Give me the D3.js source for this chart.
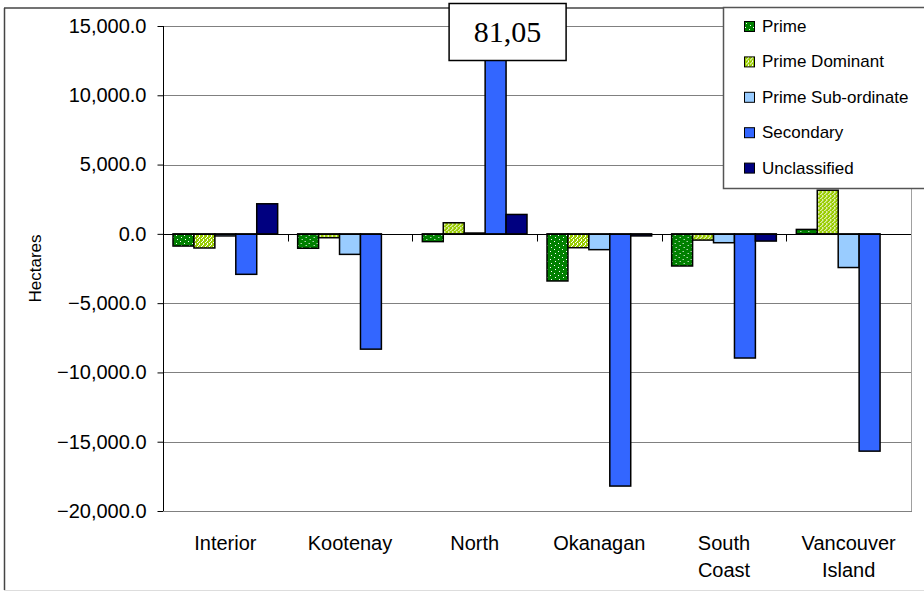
<!DOCTYPE html>
<html>
<head>
<meta charset="utf-8">
<script src="https://cdn.jsdelivr.net/npm/d3@7"></script>
<style>
  body { margin: 0; background: #fff; }
  svg { display: block; font-family: 'Liberation Sans', Arial, sans-serif; }
</style>
</head>
<body>
<svg width="924" height="591"></svg>
<script>
;(function (d3) {
  var categories = ['Interior', 'Kootenay', 'North', 'Okanagan', 'South Coast', 'Vancouver Island']
  var seriesNames = ['Prime', 'Prime Dominant', 'Prime Sub-ordinate', 'Secondary', 'Unclassified']

  // hectares
  var prime = [-880, -1040, -560, -3400, -2320, 320]
  var primeDominant = [-1020, -280, 800, -1000, -450, 3150]
  var primeSubordinate = [-150, -1480, 60, -1140, -640, -2430]
  var secondary = [-2920, -8320, 81050, -18200, -8960, -15680]
  var unclassified = [2170, 0, 1400, -150, -520, 0]

  var yTicks = [-20000, -15000, -10000, -5000, 0, 5000, 10000, 15000]
  var clippedLabel = '81,05'

  var seriesValues = [prime, primeDominant, primeSubordinate, secondary, unclassified]
  var fills = ['url(#dotsGreen)', 'url(#dotsLime)', '#99ccff', '#3366ff', '#000080']
  var swatch = ['url(#dotsGreen)', 'url(#dotsLime)', '#99ccff', '#3366ff', '#000080']

  var svg = d3.select('svg')
  var left = 163
  var right = 911
  var top = 26
  var bottom = 511

  var defs = svg.append('defs')

  function dots (id, bg, pts, size) {
    var p = defs.append('pattern')
      .attr('id', id)
      .attr('patternUnits', 'userSpaceOnUse')
      .attr('width', size)
      .attr('height', size)
    p.append('rect').attr('width', size).attr('height', size).attr('fill', bg)
    pts.forEach(function (d) {
      p.append('rect').attr('x', d[0]).attr('y', d[1]).attr('width', 1).attr('height', 1).attr('fill', '#fff')
    })
  }
  dots('dotsGreen', '#008000', [[1, 1], [5, 3], [2, 5], [6, 7]], 8)
  dots('dotsLime', '#99cc00', [[0, 0], [2, 2], [0, 3], [3, 1]], 4)

  defs.append('clipPath').attr('id', 'plotClip')
    .append('rect')
    .attr('x', left).attr('y', top)
    .attr('width', right - left).attr('height', bottom - top)

  // outer chart frame
  svg.append('line').attr('x1', 4.5).attr('x2', 4.5).attr('y1', 8).attr('y2', 590).attr('stroke', '#444').attr('stroke-width', 1.5)
  svg.append('line').attr('x1', 4).attr('x2', 924).attr('y1', 8).attr('y2', 8).attr('stroke', '#444').attr('stroke-width', 1.5)
  svg.append('line').attr('x1', 4).attr('x2', 924).attr('y1', 590.5).attr('y2', 590.5).attr('stroke', '#ddd')

  var y = d3.scaleLinear()
    .domain([-20000, 15000])
    .range([bottom, top])

  var x0 = d3.scaleBand()
    .domain(categories)
    .range([left, right])
    .padding(0)

  var x1 = d3.scaleBand()
    .domain(seriesNames)
    .range([10, x0.bandwidth() - 10])
    .padding(0)

  // gridlines
  svg.append('g')
    .selectAll('line')
    .data(yTicks.filter(function (d) { return d !== 0 }))
    .enter()
    .append('line')
    .attr('x1', left)
    .attr('x2', right)
    .attr('y1', function (d) { return Math.round(y(d)) + 0.5 })
    .attr('y2', function (d) { return Math.round(y(d)) + 0.5 })
    .attr('stroke', '#808080')

  svg.append('line')
    .attr('x1', right + 0.5).attr('x2', right + 0.5)
    .attr('y1', top).attr('y2', bottom)
    .attr('stroke', '#a0a0a0')

  // bars
  var rows = categories.map(function (c, i) {
    return seriesNames.map(function (s, j) {
      return {cat: c, name: s, j: j, value: seriesValues[j][i]}
    })
  })

  var groups = svg.append('g')
    .attr('clip-path', 'url(#plotClip)')
    .selectAll('g')
    .data(rows)
    .enter()
    .append('g')
    .attr('transform', function (d, i) { return 'translate(' + x0(categories[i]) + ',0)' })

  groups.selectAll('rect')
    .data(function (d) { return d.filter(function (e) { return e.value !== 0 }) })
    .enter()
    .append('rect')
    .attr('x', function (d) { return x1(d.name) })
    .attr('width', x1.bandwidth())
    .attr('y', function (d) { return y(Math.max(0, d.value)) })
    .attr('height', function (d) { return Math.max(1, Math.abs(y(d.value) - y(0))) })
    .attr('fill', function (d) { return fills[d.j] })
    .attr('stroke', '#000')
    .attr('stroke-width', 1.5)

  // zero axis with category ticks
  var zy = Math.round(y(0)) + 0.5
  svg.append('line')
    .attr('x1', left).attr('x2', right)
    .attr('y1', zy).attr('y2', zy)
    .attr('stroke', '#000')

  svg.append('g')
    .selectAll('line')
    .data(categories.slice(1))
    .enter()
    .append('line')
    .attr('x1', function (d) { return Math.round(x0(d)) + 0.5 })
    .attr('x2', function (d) { return Math.round(x0(d)) + 0.5 })
    .attr('y1', zy)
    .attr('y2', zy + 7)
    .attr('stroke', '#000')

  // y axis
  var yAxis = d3.axisLeft(y)
    .tickValues(yTicks)
    .tickSize(6)
    .tickPadding(11)
    .tickFormat(d3.format(',.1f'))

  var ya = svg.append('g')
    .attr('transform', 'translate(' + (left + 0.5) + ',0)')
    .call(yAxis)
  ya.select('.domain').remove()
  ya.selectAll('.tick line').attr('stroke', '#000')
  ya.selectAll('.tick text')
    .attr('font-size', 20)
    .attr('font-family', "'Liberation Sans', Arial, sans-serif")
    .attr('fill', '#000')
  svg.append('line')
    .attr('x1', left + 0.5).attr('x2', left + 0.5)
    .attr('y1', top).attr('y2', bottom)
    .attr('stroke', '#000')
  svg.append('line')
    .attr('x1', left).attr('x2', right + 1)
    .attr('y1', bottom + 0.5).attr('y2', bottom + 0.5)
    .attr('stroke', '#808080')

  // axis title
  svg.append('text')
    .attr('transform', 'translate(41,' + ((top + bottom) / 2) + ') rotate(-90)')
    .attr('text-anchor', 'middle')
    .attr('font-size', 17)
    .text('Hectares')

  // category labels
  var labels = svg.append('g')
    .selectAll('text')
    .data(categories)
    .enter()
    .append('text')
    .attr('text-anchor', 'middle')
    .attr('font-size', 20)
    .attr('y', 550)

  labels.each(function (d) {
    var parts = d === 'Interior' || d === 'Kootenay' || d === 'North' || d === 'Okanagan' ? [d] : d.split(' ')
    var cx = x0(d) + x0.bandwidth() / 2
    var t = d3.select(this)
    parts.forEach(function (p, k) {
      t.append('tspan')
        .attr('x', cx)
        .attr('y', 550 + k * 27)
        .text(p)
    })
  })

  // clipped value label on North / Secondary
  var north = 'North'
  var bx = x0(north) + x1('Secondary') + x1.bandwidth() / 2
  var box = svg.append('g').attr('transform', 'translate(' + bx + ',0)')
  box.append('rect')
    .attr('x', -46.5)
    .attr('y', 3.5)
    .attr('width', 117)
    .attr('height', 57)
    .attr('fill', '#fff')
    .attr('stroke', '#000')
    .attr('stroke-width', 1.5)
  box.append('text')
    .attr('x', 12)
    .attr('y', 42)
    .attr('text-anchor', 'middle')
    .attr('font-family', "'Liberation Serif', 'Times New Roman', serif")
    .attr('font-size', 30)
    .text(clippedLabel)

  // legend
  var legend = svg.append('g')
  legend.append('rect')
    .attr('x', 723.5)
    .attr('y', 7.5)
    .attr('width', 210)
    .attr('height', 181)
    .attr('fill', '#fff')
    .attr('stroke', '#555')
    .attr('stroke-width', 1.5)

  var items = legend.selectAll('g.item')
    .data(seriesNames)
    .enter()
    .append('g')
    .attr('class', 'item')
    .attr('transform', function (d, i) { return 'translate(744,' + (26 + i * 35.4) + ')' })

  items.append('rect')
    .attr('x', 0.5)
    .attr('y', -4.5)
    .attr('width', 10)
    .attr('height', 10)
    .attr('fill', function (d, i) { return swatch[i] })
    .attr('stroke', '#000')

  items.append('text')
    .attr('x', 18)
    .attr('y', 6)
    .attr('font-size', 17)
    .text(function (d) { return d })
})(window.d3)
</script>
</body>
</html>
